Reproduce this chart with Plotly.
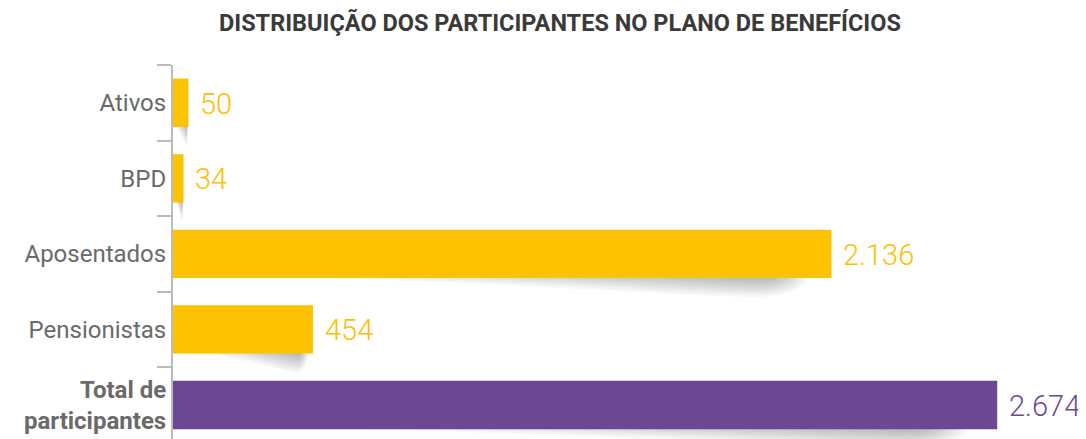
import plotly.graph_objects as go

categories = ["Ativos", "BPD", "Aposentados", "Pensionistas", "Total de participantes"]
tick_labels = ["Ativos", "BPD", "Aposentados", "Pensionistas", "<b>Total de<br>participantes</b>"]
values = [50, 34, 2136, 454, 2674]
value_labels = ["50", "34", "2.136", "454", "2.674"]
bar_colors = ["#FDC300", "#FDC300", "#FDC300", "#FDC300", "#6C4894"]
label_colors = ["#FBC000", "#FBC000", "#FBC000", "#FBC000", "#6C4894"]

BAR_W = 0.64

fig = go.Figure()
fig.add_trace(go.Bar(
    y=categories, x=values, orientation="h",
    marker=dict(color=bar_colors, line=dict(width=0)),
    width=BAR_W, hoverinfo="skip",
))

# soft "curled paper" shadows under each bar (layered translucent wedges)
shapes = []
N = 10
for i, v in enumerate(values):
    yb = i + BAR_W / 2 - 0.02
    dmax = 0.27
    for k in range(N):
        f = 1 - k * 0.09
        depth = dmax * f
        xs = v * (0.88 - 0.74 * f)
        xp = v * 0.89
        xe = v * (0.905 + 0.06 * f)
        path = (
            f"M {xs:.2f},{yb:.3f} "
            f"C {xs + (xp - xs) * 0.55:.2f},{yb + depth * 0.35:.3f} "
            f"{xp - (xp - xs) * 0.15:.2f},{yb + depth:.3f} {xp:.2f},{yb + depth:.3f} "
            f"C {xp + (xe - xp) * 0.6:.2f},{yb + depth:.3f} "
            f"{xe:.2f},{yb + depth * 0.5:.3f} {xe:.2f},{yb:.3f} Z"
        )
        shapes.append(dict(
            type="path", path=path, xref="x", yref="y", layer="below",
            fillcolor="rgba(0,0,0,0.027)", line=dict(width=0),
        ))

for c, v, t, col in zip(categories, values, value_labels, label_colors):
    fig.add_annotation(
        x=v, y=c, text=t, showarrow=False, xanchor="left", yanchor="middle",
        xshift=10, yshift=-1,
        font=dict(family="Roboto", size=29, color=col, weight=300),
    )

# page body has an 8px default margin, so the figure is sized to fit the window
fig.update_layout(
    width=1078, height=431,
    margin=dict(l=165, r=0, t=57, b=0, autoexpand=False),
    paper_bgcolor="white", plot_bgcolor="white",
    showlegend=False,
    shapes=shapes,
    title=dict(
        text="<b>DISTRIBUIÇÃO DOS PARTICIPANTES NO PLANO DE BENEFÍCIOS</b>",
        x=0.512, xanchor="center", y=0.965, yanchor="middle",
        font=dict(family="Roboto", size=23.5, color="#3A3A3A"),
    ),
    xaxis=dict(range=[0, 2962], visible=False, fixedrange=True, automargin=False),
    yaxis=dict(
        type="category", categoryarray=categories,
        tickvals=categories, ticktext=tick_labels,
        range=[4.45, -0.5], automargin=False,
        showline=True, linecolor="#BBBBBB", linewidth=2,
        ticks="outside", tickson="boundaries", ticklen=14, tickcolor="#BBBBBB", tickwidth=2,
        showgrid=False, zeroline=False,
        tickfont=dict(family="Roboto", size=24, color="#6A6A6A"),
    ),
)

fig.write_html("out.html")
